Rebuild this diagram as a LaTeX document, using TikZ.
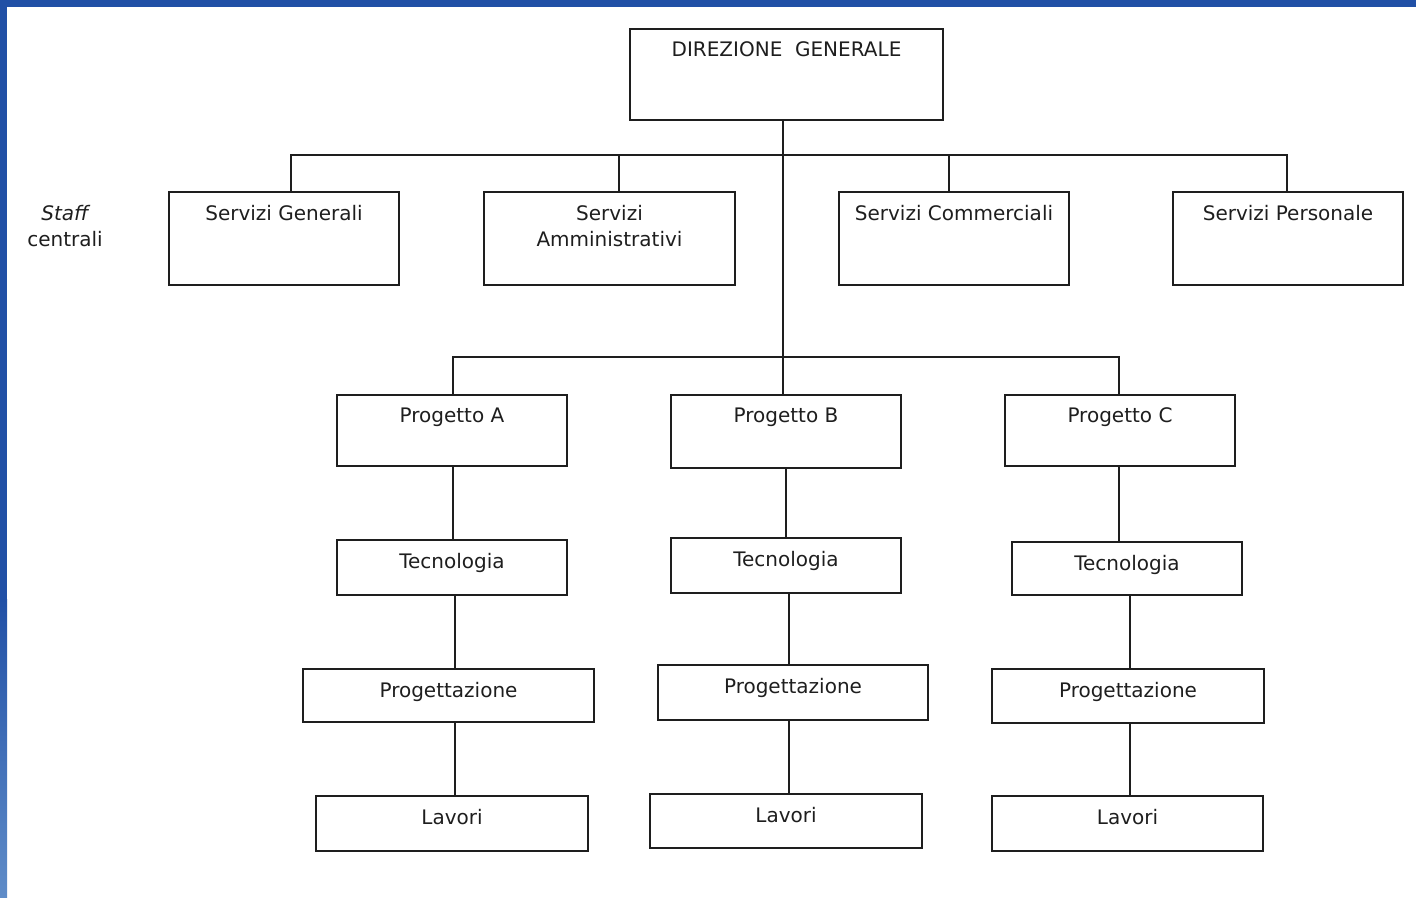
\documentclass[tikz,border=0pt]{standalone}
\usepackage{fontspec}
\setmainfont{DejaVu Sans}
\usetikzlibrary{positioning}
\definecolor{frameblue}{RGB}{33,80,166}
\definecolor{framelight}{RGB}{95,140,200}
\tikzset{
  box/.style={draw, line width=1.6pt, rectangle, inner sep=0pt},
  lbl/.style={anchor=north, inner sep=0pt, yshift=-13.5pt, align=center},
  wire/.style={line width=1.6pt}
}
\begin{document}
\begin{tikzpicture}[x=1pt, y=-1pt, font=\fontsize{20}{26}\selectfont, color={rgb,255:red,30;green,30;blue,30}]
  \useasboundingbox (0,0) rectangle (1416,897);
  % blue frame
  \fill[frameblue] (0,0) rectangle (1416,7);
  \fill[frameblue] (0,0) rectangle (7,600);
  \shade[top color=frameblue, bottom color=framelight] (0,599) rectangle (7,897);

  \node[box, minimum width=313, minimum height=91, label={[lbl]north:DIREZIONE~~GENERALE}] (dg) at (786.5,74.5) {};

  \node (staff) at (65,213) {\itshape Staff};
  \node[below=3pt of staff] (centr) {centrali};

  \node[box, minimum width=230, minimum height=93, label={[lbl]north:Servizi Generali}] (sg) at (284,238.5) {};
  \node[box, minimum width=251, minimum height=93, label={[lbl]north:Servizi\\Amministrativi}] (sa) at (609.5,238.5) {};
  \node[box, minimum width=230, minimum height=93, label={[lbl]north:Servizi Commerciali}] (sc) at (954,238.5) {};
  \node[box, minimum width=230, minimum height=93, label={[lbl]north:Servizi Personale}] (sp) at (1288,238.5) {};

  \node[box, minimum width=230, minimum height=71, label={[lbl]north:Progetto A}] (pa) at (452,430.5) {};
  \node[box, minimum width=230, minimum height=73, label={[lbl]north:Progetto B}] (pb) at (786,431.5) {};
  \node[box, minimum width=230, minimum height=71, label={[lbl]north:Progetto C}] (pc) at (1120,430.5) {};

  \node[box, minimum width=230, minimum height=55, label={[lbl]north:Tecnologia}] (ta) at (452,567.5) {};
  \node[box, minimum width=230, minimum height=55, label={[lbl]north:Tecnologia}] (tb) at (786,565.5) {};
  \node[box, minimum width=230, minimum height=53, label={[lbl]north:Tecnologia}] (tc) at (1127,568.5) {};

  \node[box, minimum width=291, minimum height=53, label={[lbl]north:Progettazione}] (za) at (448.5,695.5) {};
  \node[box, minimum width=270, minimum height=55, label={[lbl]north:Progettazione}] (zb) at (793,692.5) {};
  \node[box, minimum width=272, minimum height=54, label={[lbl]north:Progettazione}] (zc) at (1128,696) {};

  \node[box, minimum width=272, minimum height=55, label={[lbl]north:Lavori}] (la) at (452,823.5) {};
  \node[box, minimum width=272, minimum height=54, label={[lbl]north:Lavori}] (lb) at (786,821) {};
  \node[box, minimum width=271, minimum height=55, label={[lbl]north:Lavori}] (lc) at (1127.5,823.5) {};

  % staff bus
  \draw[wire] ([xshift=7]sg.north) -- ++(0,-36) -| ([xshift=-1]sp.north);
  \draw[wire] ([xshift=9.5]sa.north) -- ++(0,-36);
  \draw[wire] ([xshift=-5]sc.north) -- ++(0,-36);
  % main line
  \draw[wire] ([xshift=-3.5]dg.south) -- ([xshift=-3]pb.north);
  % project bus
  \draw[wire] ([xshift=1]pa.north) -- ++(0,-37) -| ([xshift=-1]pc.north);
  % columns
  \foreach \p/\t/\z/\l/\dx in {pa/ta/za/la/1, pb/tb/zb/lb/0, pc/tc/zc/lc/-1} {
    \draw[wire] ([xshift=\dx]\p.south) -- ([xshift=\dx]\p.south |- \t.north);
    \draw[wire] ([xshift=3]\t.south) -- ([xshift=3]\t.south |- \z.north);
    \draw[wire] ([xshift=3]\t.south |- \z.south) -- ([xshift=3]\t.south |- \l.north);
  }
\end{tikzpicture}
\end{document}
